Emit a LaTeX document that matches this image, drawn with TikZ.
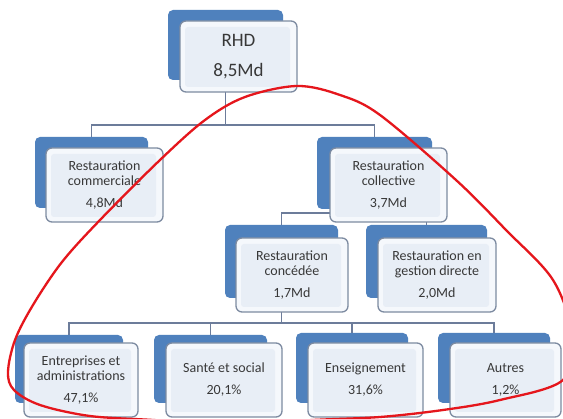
\documentclass[tikz,border=0pt]{standalone}
\usepackage{fontspec}
\setmainfont{Carlito}
\definecolor{bkblue}{HTML}{4F81BD}
\definecolor{frborder}{HTML}{7D8BA1}
\definecolor{frfill}{HTML}{F5F8FC}
\definecolor{frinner}{HTML}{E8EEF6}
\definecolor{conncol}{HTML}{6C7C9A}
\definecolor{txtcol}{HTML}{383838}
\definecolor{ovalred}{HTML}{E5161C}
\pgfdeclarelayer{bgl}
\pgfdeclarelayer{connl}
\pgfdeclarelayer{backl}
\pgfsetlayers{bgl,connl,backl,main}
\tikzset{
  backbox/.style={fill=bkblue, rounded corners=5pt, inner sep=0pt, draw=none},
  frontbox/.style={fill=frfill, draw=frborder, line width=1.3pt, rounded corners=6pt,
    inner sep=0pt, align=center, text=txtcol, font=\fontsize{14}{15}\selectfont,
    path picture={\fill[frinner, rounded corners=3pt]
      ([shift={(5pt,-6pt)}]path picture bounding box.north west) rectangle
      ([shift={(-7pt,5pt)}]path picture bounding box.south east);}},
  topfont/.style={font=\fontsize{19}{30}\selectfont},
  conn/.style={draw=conncol, line width=1.4pt},
  oval/.style={draw=ovalred, line width=2.3pt}
}
\begin{document}
\begin{tikzpicture}[x=1pt,y=-1pt]
\begin{pgfonlayer}{bgl}
\fill[white] (0,0) rectangle (563,419);
\end{pgfonlayer}
\useasboundingbox (0,0) rectangle (563,419);
\clip (0,0) rectangle (563,419);

% back boxes
\begin{pgfonlayer}{backl}
\node[backbox, minimum width=115pt, minimum height=70pt] (rhdb) at (225.5,45) {};
\node[backbox, minimum width=113pt, minimum height=71pt] (comb) at (91.5,172.5) {};
\node[backbox, minimum width=115pt, minimum height=72pt] (colb) at (374.5,173) {};
\node[backbox, minimum width=113pt, minimum height=73pt] (concb) at (281.5,261.5) {};
\node[backbox, minimum width=121pt, minimum height=73pt] (gesb) at (426.5,261.5) {};
\node[backbox, minimum width=108pt, minimum height=68pt] (entb) at (69,369) {};
\node[backbox, minimum width=113pt, minimum height=68pt] (santb) at (210.5,369) {};
\node[backbox, minimum width=112pt, minimum height=70pt] (ensb) at (352,368) {};
\node[backbox, minimum width=112pt, minimum height=70pt] (autb) at (494,368) {};
\end{pgfonlayer}

% connectors
\begin{pgfonlayer}{connl}
\coordinate (bus1) at (0,125);
\coordinate (bus2) at (0,213);
\coordinate (bus3) at (0,323);
\draw[conn] (rhdb.center) -- (rhdb.center |- bus1) -| (comb.north);
\draw[conn] (rhdb.center |- bus1) -| (colb.north);
\draw[conn] (colb.center) -- (colb.center |- bus2) -| (concb.north);
\draw[conn] (colb.center |- bus2) -| (gesb.north);
\draw[conn] (concb.center) -- (concb.center |- bus3) -| (entb.north);
\draw[conn] (concb.center |- bus3) -| (autb.north);
\draw[conn] (santb.north) -- (santb.north |- bus3);
\draw[conn] (ensb.north) -- (ensb.north |- bus3);
\end{pgfonlayer}

% front boxes
\node[frontbox, topfont, minimum width=117pt, minimum height=71pt] (rhd) at (238.5,56.5) {RHD\\8,5Md};
\node[frontbox, minimum width=117pt, minimum height=74pt] (com) at (104.5,185) {Restauration\\commerciale\\[7pt]4,8Md};
\node[frontbox, minimum width=117pt, minimum height=74pt] (col) at (388.5,185) {Restauration\\collective\\[7pt]3,7Md};
\node[frontbox, minimum width=112pt, minimum height=74pt] (conc) at (292,275) {Restauration\\concédée\\[7pt]1,7Md};
\node[frontbox, minimum width=118pt, minimum height=74pt] (ges) at (437,275) {Restauration en\\gestion directe\\[7pt]2,0Md};
\node[frontbox, minimum width=114pt, minimum height=74pt] (ent) at (81,380) {Entreprises et\\administrations\\[7pt]47,1\%};
\node[frontbox, minimum width=116pt, minimum height=74pt] (sant) at (224,380) {Santé et social\\[7pt]20,1\%};
\node[frontbox, minimum width=115pt, minimum height=74pt] (ens) at (365.5,380) {Enseignement\\[7pt]31,6\%};
\node[frontbox, minimum width=111pt, minimum height=74pt] (aut) at (505.5,380) {Autres\\[7pt]1,2\%};

% red oval
\draw[oval] plot[smooth cycle, tension=0.55] coordinates {
 (100,220) (160,160) (205,120) (245,97) (297,86) (340,95) (380,115)
 (456,180) (506,230) (553,280) (572,335) (563,380) (500,400) (443,410)
 (380,417) (313,420) (230,425) (153,420) (90,416) (40,405) (14,390)
 (8,372) (15,340) (33,305) (62,262)};
\end{tikzpicture}
\end{document}
